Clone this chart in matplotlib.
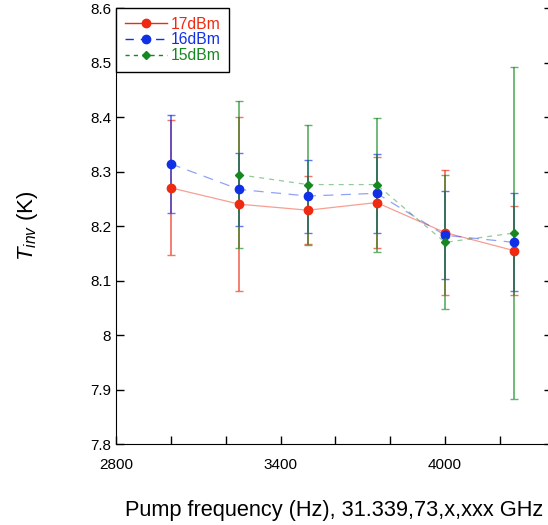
import matplotlib
matplotlib.use("Agg")
import matplotlib.pyplot as plt
from matplotlib.lines import Line2D
import numpy as np

plt.rcParams['font.family'] = ['Liberation Sans', 'DejaVu Sans']
plt.rcParams['mathtext.fontset'] = 'custom'
plt.rcParams['mathtext.it'] = 'Liberation Sans:italic'
plt.rcParams['mathtext.rm'] = 'Liberation Sans'

# pump frequency offsets (Hz)
freq = [3000, 3250, 3500, 3750, 4000, 4250]
freq15 = [3250, 3500, 3750, 4000, 4250]

# T_inv (K) and error bars
t17 = [8.270, 8.240, 8.229, 8.243, 8.188, 8.155]
e17 = [0.124, 0.160, 0.062, 0.083, 0.114, 0.082]
t16 = [8.314, 8.267, 8.255, 8.260, 8.183, 8.170]
e16 = [0.090, 0.067, 0.067, 0.072, 0.081, 0.090]
t15 = [8.294, 8.276, 8.276, 8.170, 8.187]
e15 = [0.135, 0.110, 0.123, 0.123, 0.305]

red = '#ee2a10'
blue = '#1030e8'
green = '#15891f'

fig = plt.figure(figsize=(5.48, 5.25), dpi=100)
ax = fig.add_axes([116/548, 1-444/525, 436/548, 436/525])

series = [
    (freq, t17, e17, red, '-', 'o', 6),
    (freq, t16, e16, blue, (0, (8, 6)), 'o', 6),
    (freq15, t15, e15, green, (0, (4, 4)), 'D', 4),
]
for x, y, e, c, ls, mk, ms in series:
    ax.errorbar(x, y, yerr=e, fmt='none', ecolor=c, elinewidth=1.3, capsize=3,
                alpha=0.65, zorder=2)
    ax.plot(x, y, color=c, ls=ls, lw=0.9, alpha=0.45, zorder=2)
    ax.plot(x, y, color=c, ls='none', marker=mk, ms=ms, zorder=3)

ax.set_xlim(2800, 4390)
ax.set_ylim(7.8, 8.6)
ax.set_xticks(np.arange(2800, 4400, 200))
ax.set_xticklabels(['2800', '', '', '3400', '', '', '4000', ''])
ax.set_yticks(np.arange(7.8, 8.61, 0.1))
ax.set_yticklabels(['7.8', '7.9', '8', '8.1', '8.2', '8.3', '8.4', '8.5', '8.6'])
ax.tick_params(direction='in', length=6, width=1, labelsize=11, right=True, top=False)
ax.tick_params(axis='x', pad=10)
ax.spines['top'].set_visible(False)
ax.spines['right'].set_visible(False)

ax.set_ylabel('$T_{inv}$ (K)', fontsize=16, labelpad=36)
ax.set_xlabel('Pump frequency (Hz), 31.339,73,x,xxx GHz', fontsize=15.7, labelpad=20)

handles = [
    Line2D([], [], color=red, marker='o', ms=6, lw=1),
    Line2D([], [], color=blue, marker='o', ms=6, lw=1, ls=(0, (6, 5))),
    Line2D([], [], color=green, marker='D', ms=4, lw=1, ls=(0, (3, 3))),
]
leg = ax.legend(handles, ['17dBm', '16dBm', '15dBm'], loc='upper left',
                bbox_to_anchor=(0, 1), borderaxespad=0, fancybox=False,
                edgecolor='black', fontsize=11.3, handlelength=2.7,
                labelspacing=0.05, borderpad=0.55, handletextpad=0.25, framealpha=1)
leg.get_frame().set_linewidth(1)
for txt, c in zip(leg.get_texts(), [red, blue, green]):
    txt.set_color(c)

fig.savefig('out.png', dpi=100)
